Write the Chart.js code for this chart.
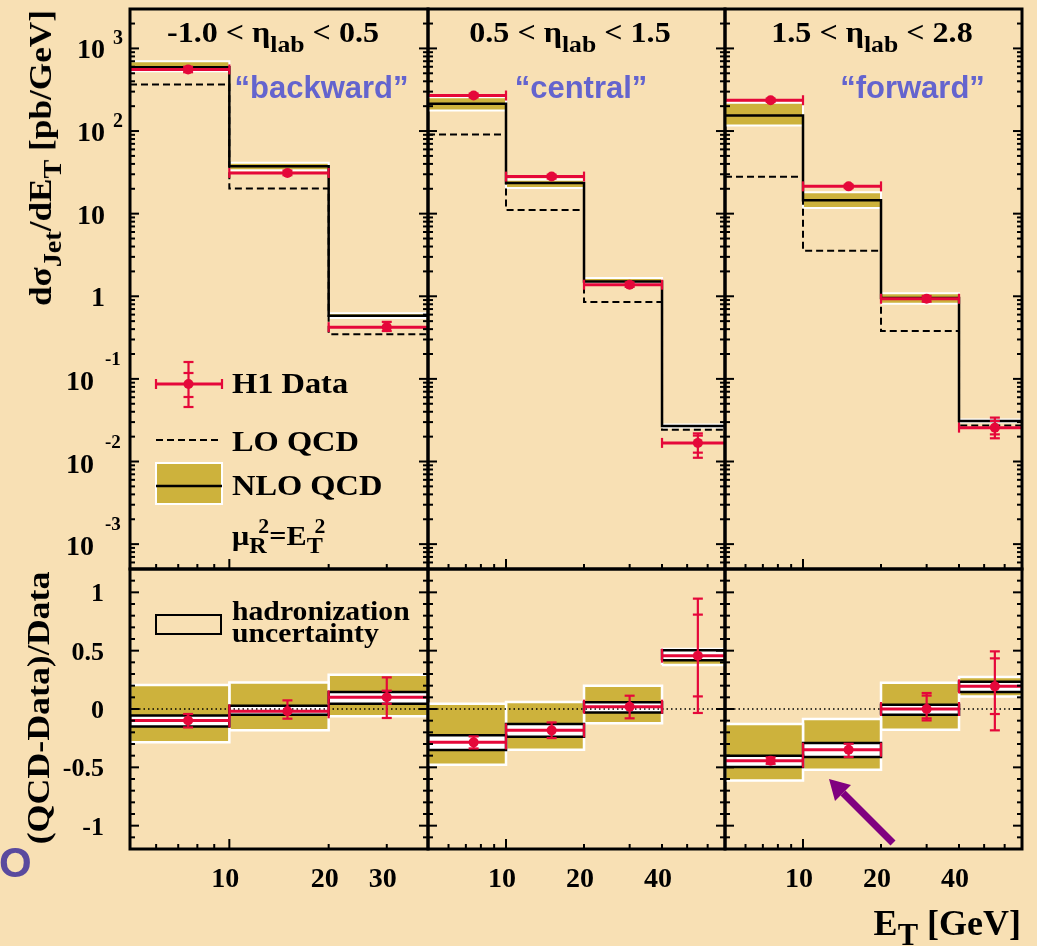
<!DOCTYPE html>
<html>
<head>
<meta charset="utf-8">
<script src="https://cdn.jsdelivr.net/npm/chart.js@4.4.1/dist/chart.umd.min.js"></script>
<style>
html,body{margin:0;padding:0;background:rgb(248,224,180);width:1037px;height:946px;overflow:hidden;}
#wrap{position:relative;width:1037px;height:946px;}
canvas{position:absolute;left:0;top:0;}
.t{position:absolute;white-space:nowrap;line-height:1;font-family:"Liberation Serif","Times New Roman",serif;font-weight:bold;color:#000;}
.s{position:relative;font-size:0.8em;top:0.4em;}
.p{position:relative;font-size:0.72em;top:-0.55em;}
.blue{font-family:"Liberation Sans",Arial,sans-serif;color:#6464CE;font-size:31px;}
</style>
</head>
<body>
<div id="wrap">
<canvas id="c11" width="1037" height="946"></canvas>
<canvas id="c12" width="1037" height="946"></canvas>
<canvas id="c13" width="1037" height="946"></canvas>
<canvas id="c21" width="1037" height="946"></canvas>
<canvas id="c22" width="1037" height="946"></canvas>
<canvas id="c23" width="1037" height="946"></canvas>

<!-- panel titles -->
<div class="t" style="left:123px;width:300px;text-align:center;top:17px;font-size:30px;transform:scaleX(1.07);">-1.0 &lt; η<span class="s">lab</span> &lt; 0.5</div>
<div class="t" style="left:420px;width:300px;text-align:center;top:17px;font-size:30px;transform:scaleX(1.07);">0.5 &lt; η<span class="s">lab</span> &lt; 1.5</div>
<div class="t" style="left:722px;width:300px;text-align:center;top:17px;font-size:30px;transform:scaleX(1.07);">1.5 &lt; η<span class="s">lab</span> &lt; 2.8</div>

<div class="t blue" style="left:171.5px;width:300px;text-align:center;top:72px;">“backward”</div>
<div class="t blue" style="left:431px;width:300px;text-align:center;top:72px;">“central”</div>
<div class="t blue" style="left:762.5px;width:300px;text-align:center;top:72px;">“forward”</div>

<!-- axis titles -->
<div class="t" style="left:40px;top:158px;font-size:32px;transform:translate(-50%,-50%) rotate(-90deg) scaleX(1.1);">dσ<span class="s">Jet</span>/dE<span class="s">T</span> [pb/GeV]</div>
<div class="t" style="left:38px;top:708px;font-size:32px;transform:translate(-50%,-50%) rotate(-90deg) scaleX(1.12);">(QCD-Data)/Data</div>
<div class="t" style="right:16px;top:905px;font-size:36px;">E<span class="s" style="font-size:0.85em;top:0.33em">T</span> [GeV]</div>

<!-- legend texts -->
<div class="t" style="left:232px;top:368px;font-size:30px;transform:scaleX(1.08);transform-origin:0 0;">H1 Data</div>
<div class="t" style="left:232px;top:426px;font-size:30px;transform:scaleX(1.08);transform-origin:0 0;">LO QCD</div>
<div class="t" style="left:232px;top:470px;font-size:30px;transform:scaleX(1.08);transform-origin:0 0;">NLO QCD</div>
<div class="t" style="left:232px;top:521.5px;font-size:28px;transform:scaleX(1.08);transform-origin:0 0;">μ<span class="s">R</span><span class="p" style="margin-left:-0.38em">2</span>=E<span class="s">T</span><span class="p" style="margin-left:-0.38em">2</span></div>
<div class="t" style="left:232px;top:597.5px;font-size:27px;transform:scaleX(1.1);transform-origin:0 0;">hadronization</div>
<div class="t" style="left:232px;top:620px;font-size:27px;transform:scaleX(1.1);transform-origin:0 0;">uncertainty</div>

<div class="t" style="left:-1px;top:841.5px;font-size:42px;font-family:'Liberation Sans',Arial,sans-serif;color:#5A4A9E;">O</div>

<svg style="position:absolute;left:0;top:0;" width="1037" height="946">
  <line x1="893" y1="843" x2="843" y2="793" stroke="#800080" stroke-width="7"/>
  <polygon points="829,779 851,785 835,801" fill="#800080"/>
</svg>
</div>

<script>
// ================= DATA =================
// bin edges of E_T [GeV] and data x positions
const edgesBackward = [5, 10, 20, 40];
const edgesCentral  = [5, 10, 20, 40, 70];
const edgesForward  = [5, 10, 20, 40, 70];
const xBackward = [7.5, 15, 30];
const xCentral  = [7.5, 15, 30, 55];
const xForward  = [7.5, 15, 30, 55];

// upper row: dσ/dE_T [pb/GeV]
const h1Backward    = [556, 31.1, 0.423];
const h1BackwardLo  = [515, 29.2, 0.38];
const h1BackwardHi  = [600, 33.2, 0.49];
const nloBackward   = [593, 37.4, 0.58];
const nloBackwardLo = [531, 33.5, 0.545];
const nloBackwardHi = [700, 41.2, 0.625];
const loBackward    = [366, 20.1, 0.348];

const h1Central       = [269, 28.1, 1.38, 0.0168];
const h1CentralLo     = [255, 26.6, 1.30, 0.0111];
const h1CentralHi     = [284, 29.6, 1.47, 0.0219];
const h1CentralStatLo = [null, null, null, 0.0128];
const h1CentralStatHi = [null, null, null, 0.0206];
const nloCentral      = [214, 23.5, 1.51, 0.0269];
const nloCentralLo    = [177, 20.5, 1.44, 0.0258];
const nloCentralHi    = [257, 25.8, 1.66, 0.0281];
const loCentral       = [90.8, 11.1, 0.85, 0.0243];

const h1Forward       = [236, 21.4, 0.933, 0.0257];
const h1ForwardLo     = [226, 20.4, 0.86, 0.0191];
const h1ForwardHi     = [247, 22.4, 1.01, 0.034];
const h1ForwardStatLo = [null, null, null, 0.0213];
const h1ForwardStatHi = [null, null, null, 0.031];
const nloForward      = [154, 14.5, 0.95, 0.031];
const nloForwardLo    = [117, 11.7, 0.81, 0.0298];
const nloForwardHi    = [220, 18.1, 1.09, 0.0322];
const loForward       = [27.9, 3.56, 0.379, 0.0272];

// lower row: (QCD-Data)/Data
const ratioBackward       = [-0.098, -0.02, 0.10];
const ratioBackwardLo     = [-0.158, -0.083, -0.077];
const ratioBackwardHi     = [-0.043, 0.074, 0.271];
const ratioBackwardStatLo = [null, null, 0.045];
const ratioBackwardStatHi = [null, null, 0.157];
const scaleBackwardLo     = [-0.286, -0.183, -0.063];
const scaleBackwardHi     = [0.206, 0.228, 0.294];
const hadrBackwardLo      = [-0.149, -0.049, 0.045];
const hadrBackwardHi      = [-0.055, 0.028, 0.146];

const ratioCentral       = [-0.286, -0.183, 0.02, 0.457];
const ratioCentralLo     = [-0.338, -0.249, -0.08, -0.034];
const ratioCentralHi     = [-0.235, -0.115, 0.114, 0.946];
const ratioCentralStatLo = [null, null, null, 0.108];
const ratioCentralStatHi = [null, null, null, 0.809];
const scaleCentralLo     = [-0.478, -0.349, -0.123, 0.377];
const scaleCentralHi     = [0.045, 0.06, 0.2, 0.514];
const hadrCentralLo      = [-0.352, -0.238, -0.029, 0.417];
const hadrCentralHi      = [-0.226, -0.129, 0.057, 0.503];

const ratioForward       = [-0.443, -0.349, 0.0, 0.194];
const ratioForwardLo     = [-0.47, -0.412, -0.098, -0.183];
const ratioForwardHi     = [-0.415, -0.298, 0.137, 0.494];
const ratioForwardStatLo = [null, null, -0.08, -0.043];
const ratioForwardStatHi = [null, null, 0.115, 0.434];
const scaleForwardLo     = [-0.612, -0.52, -0.178, 0.108];
const scaleForwardHi     = [-0.129, -0.086, 0.226, 0.274];
const hadrForwardLo      = [-0.497, -0.412, -0.049, 0.146];
const hadrForwardHi      = [-0.40, -0.292, 0.037, 0.234];

// tick labels
const topYTickExponents = [-3, -2, -1, 0, 1, 2, 3];
const ratioYTickLabels  = [1, 0.5, 0, -0.5, -1];
const xTickLabelsBackward = [10, 20, 30];
const xTickLabelsCentral  = [10, 20, 40];
const xTickLabelsForward  = [10, 20, 40];

// ================= STYLE =================
const W = 1037, H = 946;
const OLIVE = '#CDB23C';
const RED = '#E5083A';
const SERIF = '"Liberation Serif","Times New Roman",serif';

function boxPts(x0, x1, lo, hi) {
  return [{x:x0,y:lo},{x:x0,y:hi},{x:x1,y:hi},{x:x1,y:lo},{x:x0,y:lo}];
}
function stepPts(edges, vals) {
  const pts = [];
  vals.forEach((v, i) => { pts.push({x:edges[i], y:v}); pts.push({x:edges[i+1], y:v}); });
  return pts;
}
function segPts(edges, vals) {
  const pts = [];
  vals.forEach((v, i) => { pts.push({x:edges[i], y:v}, {x:edges[i+1], y:v}, {x:edges[i+1], y:null}); });
  return pts;
}
function seg(ctx, x1, y1, x2, y2) { ctx.beginPath(); ctx.moveTo(x1, y1); ctx.lineTo(x2, y2); ctx.stroke(); }

function decor(p) {
  return {
    id: 'decor',
    afterDatasetsDraw(chart) {
      const ctx = chart.ctx, xs = chart.scales.x, ys = chart.scales.y;
      ctx.save();
      ctx.strokeStyle = RED;
      ctx.lineWidth = 2.2;
      const capH = p.kind === 'top' ? 5 : 7;
      p.values.forEach((v, i) => {
        const py = ys.getPixelForValue(v);
        [p.edges[i], p.edges[i+1]].forEach(e => {
          if (e <= p.xMin || e >= p.xMax) return;
          const px = xs.getPixelForValue(e);
          seg(ctx, px, py - capH, px, py + capH);
        });
        const px = xs.getPixelForValue(p.xData[i]);
        const y1 = ys.getPixelForValue(p.errLo[i]), y2 = ys.getPixelForValue(p.errHi[i]);
        seg(ctx, px, y1, px, y2);
        seg(ctx, px - 5, y1, px + 5, y1);
        seg(ctx, px - 5, y2, px + 5, y2);
        if (p.statLo && p.statLo[i] != null) {
          const s1 = ys.getPixelForValue(p.statLo[i]), s2 = ys.getPixelForValue(p.statHi[i]);
          seg(ctx, px - 5, s1, px + 5, s1);
          seg(ctx, px - 5, s2, px + 5, s2);
        }
      });
      ctx.restore();
    },
    afterDraw(chart) {
      const ctx = chart.ctx, a = chart.chartArea, xs = chart.scales.x, ys = chart.scales.y;
      ctx.save();
      ctx.strokeStyle = '#000';
      ctx.lineWidth = 2;
      // x ticks along the bottom edge, pointing inwards
      for (let e = 0; e <= 2; e++) {
        for (let k = 1; k <= 9; k++) {
          const v = k * Math.pow(10, e);
          if (v <= p.xMin * 1.0001 || v >= p.xMax * 0.9999) continue;
          const px = xs.getPixelForValue(v);
          seg(ctx, px, a.bottom, px, a.bottom - (k === 1 ? 10 : 5));
        }
      }
      // y ticks on both sides
      const yt = [];
      if (p.kind === 'top') {
        for (let e = -4; e <= 3; e++) for (let k = 1; k <= 9; k++) {
          const v = k * Math.pow(10, e);
          if (v <= 5e-4 * 1.0001 || v >= 3000 * 0.9999) continue;
          yt.push([v, k === 1]);
        }
      } else {
        for (let j = -11; j <= 11; j++) yt.push([j / 10, j % 5 === 0]);
      }
      yt.forEach(([v, major]) => {
        const py = ys.getPixelForValue(v);
        const len = major ? 9 : 5;
        seg(ctx, a.left, py, a.left + len, py);
        seg(ctx, a.right, py, a.right - len, py);
      });
      // frame
      ctx.lineWidth = 3;
      ctx.strokeRect(a.left, a.top, a.right - a.left, a.bottom - a.top);

      // tick labels
      ctx.fillStyle = '#000';
      ctx.textBaseline = 'alphabetic';
      if (p.yLabels && p.kind === 'top') {
        topYTickExponents.forEach(e => {
          const py = ys.getPixelForValue(Math.pow(10, e));
          ctx.font = 'bold 28px ' + SERIF;
          ctx.textAlign = 'right';
          if (e === 0) { ctx.fillText('1', a.left - 25, py + 10); }
          else if (e === 1) { ctx.fillText('10', a.left - 25, py + 10); }
          else if (e > 1) {
            ctx.fillText('10', a.left - 25, py + 10);
            ctx.textAlign = 'left'; ctx.font = 'bold 20px ' + SERIF;
            ctx.fillText(String(e), a.left - 17, py - 4);
          } else {
            ctx.fillText('10', a.left - 36, py + 11);
            ctx.textAlign = 'left'; ctx.font = 'bold 19px ' + SERIF;
            ctx.fillText(String(e), a.left - 25, py - 14);
          }
        });
      }
      if (p.yLabels && p.kind === 'ratio') {
        ctx.font = 'bold 26px ' + SERIF;
        ctx.textAlign = 'right';
        ratioYTickLabels.forEach(v => {
          const py = ys.getPixelForValue(v);
          ctx.fillText(String(v), a.left - 26, py + 9);
        });
      }
      if (p.xLabels) {
        ctx.font = 'bold 28px ' + SERIF;
        ctx.textAlign = 'center';
        p.xLabels.forEach(v => {
          ctx.fillText(String(v), xs.getPixelForValue(v) - 4, a.bottom + 38);
        });
      }
      // legends
      if (p.legend === 'top') {
        ctx.strokeStyle = RED; ctx.lineWidth = 3;
        seg(ctx, 156, 384, 222, 384);
        ctx.lineWidth = 2.2;
        seg(ctx, 156, 379, 156, 389); seg(ctx, 222, 379, 222, 389);
        seg(ctx, 188.5, 362, 188.5, 407);
        [362, 373, 397, 407].forEach(y => seg(ctx, 183.5, y, 193.5, y));
        ctx.fillStyle = RED; ctx.beginPath(); ctx.arc(188.5, 384, 5, 0, Math.PI * 2); ctx.fill();
        ctx.strokeStyle = '#000'; ctx.lineWidth = 2; ctx.setLineDash([7, 4]);
        seg(ctx, 156, 440, 222, 440); ctx.setLineDash([]);
        ctx.fillStyle = OLIVE; ctx.fillRect(156, 463, 66, 41);
        ctx.strokeStyle = '#FFFFFF'; ctx.lineWidth = 2; ctx.strokeRect(156, 463, 66, 41);
        ctx.strokeStyle = '#000'; ctx.lineWidth = 2.5; seg(ctx, 156, 486, 222, 486);
      }
      if (p.legend === 'ratio') {
        ctx.strokeStyle = '#000'; ctx.lineWidth = 2;
        ctx.strokeRect(156, 615, 65, 19);
      }
      ctx.restore();
    }
  };
}

function buildChart(p) {
  const [l, t, r, b] = p.rect;
  const ds = [];
  const n = p.values.length;
  for (let i = 0; i < n; i++) {
    ds.push({data: boxPts(p.edges[i], p.edges[i+1], p.bandLo[i], p.bandHi[i]), fill: 'shape',
      backgroundColor: OLIVE, borderColor: '#FFFFFF', borderWidth: p.kind === 'top' ? 2 : 2.5, order: 40});
  }
  if (p.kind === 'top') {
    ds.push({data: stepPts(p.edges, p.lo), borderColor: '#000', borderWidth: 2, borderDash: [7, 4], order: 31});
    ds.push({data: stepPts(p.edges, p.central), borderColor: '#000', borderWidth: 2.5, order: 30});
  } else {
    for (let i = 0; i < n; i++) {
      ds.push({data: boxPts(p.edges[i], p.edges[i+1], p.hadrLo[i], p.hadrHi[i]), fill: 'shape',
        backgroundColor: '#FFFFFF', borderColor: '#000', borderWidth: 2.5, order: 35});
    }
    ds.push({data: [{x: p.xMin, y: 0}, {x: p.xMax, y: 0}], borderColor: '#000', borderWidth: 1.3, borderDash: [1.5, 3], order: 33});
  }
  ds.push({data: segPts(p.edges, p.values), borderColor: RED, borderWidth: 3, order: 5});
  ds.push({data: p.xData.map((x, i) => ({x: x, y: p.values[i]})), showLine: false, pointRadius: 5,
    pointBackgroundColor: RED, pointBorderColor: RED, pointBorderWidth: 0, order: 1});

  new Chart(document.getElementById(p.id), {
    type: 'line',
    data: {datasets: ds},
    options: {
      responsive: false, animation: false, devicePixelRatio: 1, events: [],
      layout: {padding: {left: l, top: t, right: W - r, bottom: H - b}},
      elements: {point: {radius: 0, hoverRadius: 0}, line: {tension: 0, fill: false}},
      plugins: {legend: {display: false}, tooltip: {enabled: false}},
      scales: {
        x: {type: 'logarithmic', min: p.xMin, max: p.xMax, display: false},
        y: p.kind === 'top'
          ? {type: 'logarithmic', min: 5e-4, max: 3000, display: false}
          : {type: 'linear', min: -1.2, max: 1.2, display: false}
      }
    },
    plugins: [decor(p)]
  });
}

const panels = [
  {id: 'c11', kind: 'top', rect: [130, 9, 428, 569], xMin: 5, xMax: 40, edges: edgesBackward, xData: xBackward,
   values: h1Backward, errLo: h1BackwardLo, errHi: h1BackwardHi, statLo: null, statHi: null,
   bandLo: nloBackwardLo, bandHi: nloBackwardHi, central: nloBackward, lo: loBackward, yLabels: true, legend: 'top'},
  {id: 'c12', kind: 'top', rect: [428, 9, 725, 569], xMin: 5, xMax: 70, edges: edgesCentral, xData: xCentral,
   values: h1Central, errLo: h1CentralLo, errHi: h1CentralHi, statLo: h1CentralStatLo, statHi: h1CentralStatHi,
   bandLo: nloCentralLo, bandHi: nloCentralHi, central: nloCentral, lo: loCentral},
  {id: 'c13', kind: 'top', rect: [725, 9, 1022, 569], xMin: 5, xMax: 70, edges: edgesForward, xData: xForward,
   values: h1Forward, errLo: h1ForwardLo, errHi: h1ForwardHi, statLo: h1ForwardStatLo, statHi: h1ForwardStatHi,
   bandLo: nloForwardLo, bandHi: nloForwardHi, central: nloForward, lo: loForward},
  {id: 'c21', kind: 'ratio', rect: [130, 569, 428, 849], xMin: 5, xMax: 40, edges: edgesBackward, xData: xBackward,
   values: ratioBackward, errLo: ratioBackwardLo, errHi: ratioBackwardHi, statLo: ratioBackwardStatLo, statHi: ratioBackwardStatHi,
   bandLo: scaleBackwardLo, bandHi: scaleBackwardHi, hadrLo: hadrBackwardLo, hadrHi: hadrBackwardHi,
   yLabels: true, xLabels: xTickLabelsBackward, legend: 'ratio'},
  {id: 'c22', kind: 'ratio', rect: [428, 569, 725, 849], xMin: 5, xMax: 70, edges: edgesCentral, xData: xCentral,
   values: ratioCentral, errLo: ratioCentralLo, errHi: ratioCentralHi, statLo: ratioCentralStatLo, statHi: ratioCentralStatHi,
   bandLo: scaleCentralLo, bandHi: scaleCentralHi, hadrLo: hadrCentralLo, hadrHi: hadrCentralHi, xLabels: xTickLabelsCentral},
  {id: 'c23', kind: 'ratio', rect: [725, 569, 1022, 849], xMin: 5, xMax: 70, edges: edgesForward, xData: xForward,
   values: ratioForward, errLo: ratioForwardLo, errHi: ratioForwardHi, statLo: ratioForwardStatLo, statHi: ratioForwardStatHi,
   bandLo: scaleForwardLo, bandHi: scaleForwardHi, hadrLo: hadrForwardLo, hadrHi: hadrForwardHi, xLabels: xTickLabelsForward}
];
panels.forEach(buildChart);
</script>
</body>
</html>
